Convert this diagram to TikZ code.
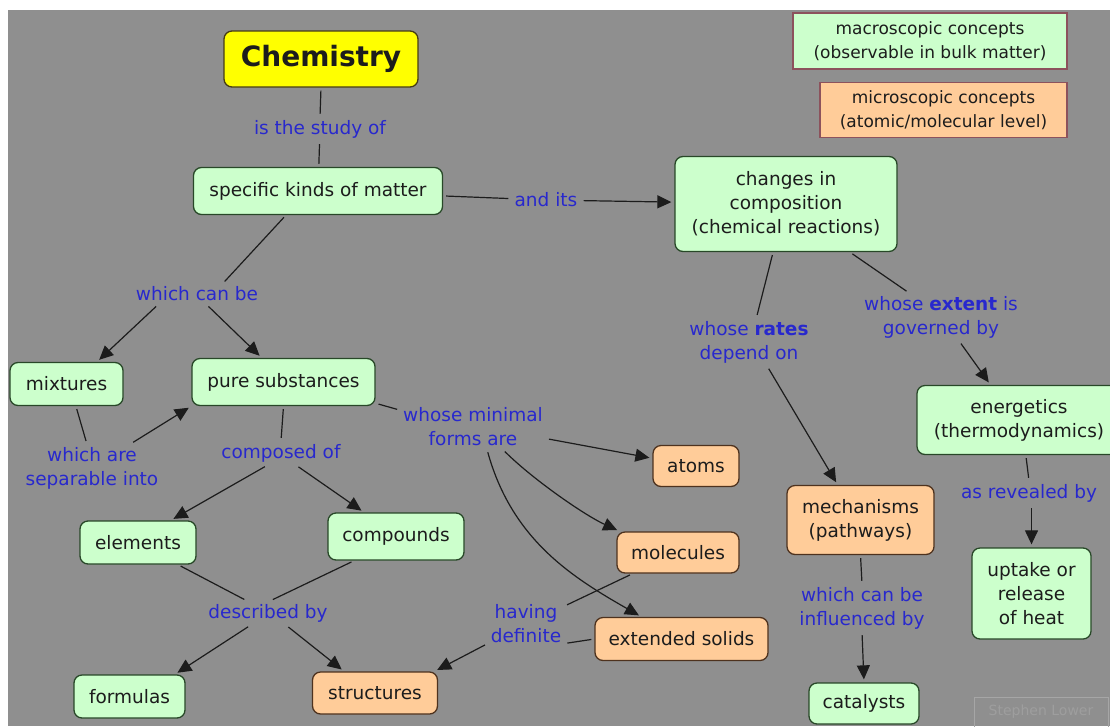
\documentclass[tikz,border=0pt]{standalone}
\usepackage{fontspec}
\setmainfont{DejaVu Sans}
\usetikzlibrary{arrows.meta}

\definecolor{bg}{RGB}{143,143,143}
\definecolor{macrofill}{RGB}{204,255,204}
\definecolor{macroline}{RGB}{40,72,40}
\definecolor{microfill}{RGB}{255,204,153}
\definecolor{microline}{RGB}{78,50,30}
\definecolor{keyline}{RGB}{140,82,92}
\definecolor{titlefill}{RGB}{255,255,0}
\definecolor{titleline}{RGB}{70,60,20}
\definecolor{linkblue}{RGB}{40,40,205}
\definecolor{ink}{RGB}{28,28,28}
\definecolor{wmtext}{RGB}{158,158,158}
\definecolor{wmline}{RGB}{166,166,166}

\tikzset{
  concept/.style={rounded corners=8pt, line width=1.3pt, align=center, inner sep=0pt,
    font=\fontsize{18.5}{24}\selectfont, text=ink},
  macro/.style={concept, fill=macrofill, draw=macroline},
  micro/.style={concept, fill=microfill, draw=microline},
  keybox/.style={line width=1.3pt, draw=keyline, align=center, inner sep=0pt,
    font=\fontsize{17}{24}\selectfont, text=ink},
  linkword/.style={text=linkblue, align=center, inner sep=3pt,
    font=\fontsize{18.5}{24}\selectfont},
  link/.style={line width=1.2pt, draw=ink, shorten <=3pt, shorten >=3pt},
  arr/.style={link, -{Triangle[length=14pt,width=13pt]}},
  sz/.style n args={2}{minimum width=#1pt, minimum height=#2pt},
}

\begin{document}
\begin{tikzpicture}[x=1pt,y=-1pt]
  % canvas
  \useasboundingbox (0,0) rectangle (1110,726);
  \fill[white] (0,0) rectangle (1110,726);
  \fill[bg] (8,10) rectangle (1110,726);

  % key
  \node[keybox, fill=macrofill, sz={274}{56}] (keymacro) at (930,41)
    {macroscopic concepts\\(observable in bulk matter)};
  \node[keybox, fill=microfill, sz={247}{55}] (keymicro) at (943.5,110)
    {microscopic concepts\\(atomic/molecular level)};

  % concepts
  \node[concept, fill=titlefill, draw=titleline, sz={194}{56},
        font=\fontsize{28}{34}\selectfont\bfseries] (chem) at (321,59) {Chemistry};
  \node[macro, sz={249}{47}] (skm) at (318,191) {specific kinds of matter};
  \node[macro, sz={222}{95}] (chg) at (786,204)
    {changes in\\composition\\(chemical reactions)};
  \node[macro, sz={113}{43}] (mix) at (66.5,384) {mixtures};
  \node[macro, sz={183}{47}] (pure) at (283.5,382) {pure substances};
  \node[micro, sz={86}{41}] (atoms) at (696,466) {atoms};
  \node[macro, sz={116}{43}] (elem) at (138,542.5) {elements};
  \node[macro, sz={136}{47}] (comp) at (396,536.5) {compounds};
  \node[micro, sz={122}{41}] (mol) at (678,552.5) {molecules};
  \node[micro, sz={173}{43}] (ext) at (681.5,639) {extended solids};
  \node[macro, sz={111}{43}] (form) at (129.5,696.5) {formulas};
  \node[micro, sz={125}{42}] (struct) at (375,693) {structures};
  \node[macro, sz={204}{69}] (ener) at (1019,420) {energetics\\(thermodynamics)};
  \node[micro, sz={147}{69}] (mech) at (860.5,520) {mechanisms\\(pathways)};
  \node[macro, sz={119}{91}] (uptake) at (1031.5,593.5) {uptake or\\release\\of heat};
  \node[macro, sz={110}{41}] (cat) at (864,703.5) {catalysts};

  % linking phrases
  \node[linkword] (lstudy) at (320,129) {is the study of};
  \node[linkword] (landits) at (546,200) {and its};
  \node[linkword] (lcan) at (197,294) {which can be};
  \node[linkword] (lsep) at (92,468) {which are\\separable into};
  \node[linkword] (lcomp) at (281,453) {composed of};
  \node[linkword] (lmin) at (473,427) {whose minimal\\forms are};
  \node[linkword] (ldesc) at (268,613) {described by};
  \node[linkword] (lhav) at (526,624) {having\\definite};
  \node[linkword] (lrates) at (749,342) {whose \textbf{rates}\\depend on};
  \node[linkword] (lext) at (941,317) {whose \textbf{extent} is\\governed by};
  \node[linkword] (lrev) at (1029,493) {as revealed by};
  \node[linkword] (linfl) at (862,608) {which can be\\influenced by};

  % credit
  \node[draw=wmline, line width=1pt, text=wmtext, inner sep=0pt, sz={134}{30},
        font=\fontsize{14}{16}\selectfont] (credit) at (1041,712) {Stephen Lower};

  % propositions
  \draw[link] (chem.south) -- (lstudy.north);
  \draw[link] (lstudy) -- (skm);
  \draw[link] (skm) -- (landits);
  \draw[arr] (landits) -- (chg);
  \draw[link] (skm.217) -- (lcan.22);
  \draw[arr] (lcan.195) -- (mix.36);
  \draw[arr] (lcan.312) -- (pure.132);
  \draw[link] (mix.293) -- (lsep.102);
  \draw[arr] (lsep.32) -- (pure.south west);
  \draw[link] (pure.south) -- (lcomp.north);
  \draw[arr] (lcomp.222) -- (elem.34);
  \draw[arr] (lcomp.321) -- (comp.143);
  \draw[link] (pure.347) -- (lmin.167);
  \draw[arr] (lmin.351) -- (atoms.170);
  \draw[arr] (lmin.323) .. controls +(30,30) and +(-35,-16) .. (mol.160);
  \draw[arr] (lmin.302) .. controls +(25,90) and +(-70,-40) .. (ext.151);
  \draw[link] (elem.331) -- (ldesc.150);
  \draw[link] (comp.210) -- (ldesc.80);
  \draw[arr] (ldesc.215) -- (form.26);
  \draw[arr] (ldesc.326) -- (struct.145);
  \draw[link] (mol.205) -- (lhav.25);
  \draw[link] (ext.west) -- (lhav.333);
  \draw[arr] (lhav.207) -- (struct.20);
  \draw[link] (chg.255) -- (lrates.73);
  \draw[arr] (lrates.307) -- (mech.123);
  \draw[link] (chg.323) -- (lext.143);
  \draw[arr] (lext.307) -- (ener.129);
  \draw[link] (ener.281) -- (lrev.north);
  \draw[arr] (lrev.south -| uptake.north) -- (uptake.north);
  \draw[link] (mech.south) -- (linfl.north);
  \draw[arr] (linfl.south) -- (cat.north);
\end{tikzpicture}
\end{document}
